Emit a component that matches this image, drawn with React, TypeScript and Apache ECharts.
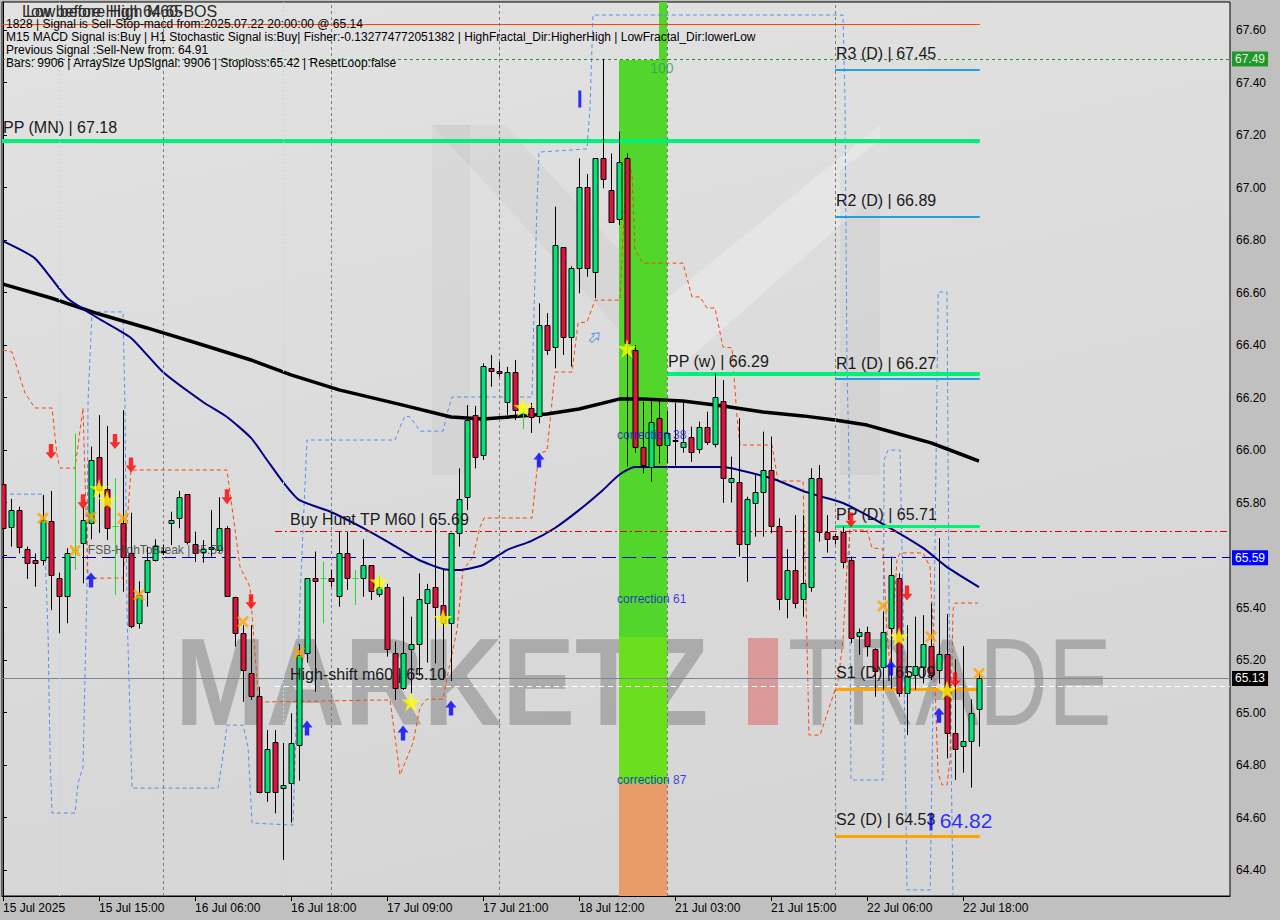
import React, { useEffect, useRef } from "react";
import * as echarts from "echarts";

// ---------- DATA ----------
const timeLabels = ["15 Jul 2025", "15 Jul 15:00", "16 Jul 06:00", "16 Jul 18:00", "17 Jul 09:00", "17 Jul 21:00", "18 Jul 12:00", "21 Jul 03:00", "21 Jul 15:00", "22 Jul 06:00", "22 Jul 18:00"];
const timeLabelBars = [0, 12, 24, 36, 48, 60, 72, 84, 96, 108, 120];
const priceTicks = [64.4, 64.6, 64.8, 65.0, 65.2, 65.4, 65.6, 65.8, 66.0, 66.2, 66.4, 66.6, 66.8, 67.0, 67.2, 67.4, 67.6];
// 65.60 label is hidden behind the 65.59 price box in the reference
const priceLabels = [64.4, 64.6, 64.8, 65.0, 65.2, 65.4, 65.8, 66.0, 66.2, 66.4, 66.6, 66.8, 67.0, 67.2, 67.4, 67.6];

// [open, close, low, high] per bar
const bars: number[][] = [
  [65.869, 65.702, 65.651, 65.885], [65.708, 65.771, 65.632, 65.814], [65.771, 65.629, 65.606, 65.784], [65.622, 65.571, 65.509, 65.632],
  [65.581, 65.571, 65.479, 65.606], [65.581, 65.733, 65.560, 65.829], [65.731, 65.524, 65.390, 65.844], [65.511, 65.444, 65.302, 65.533],
  [65.444, 65.609, 65.340, 65.626], [65.620, 65.620, 65.543, 66.063], [65.645, 65.733, 65.492, 65.784], [65.721, 65.962, 65.660, 66.013],
  [65.972, 65.848, 65.684, 66.133], [65.850, 65.702, 65.657, 66.091], [65.710, 65.710, 65.448, 65.893], [65.721, 65.594, 65.460, 66.152],
  [65.609, 65.330, 65.321, 65.761], [65.340, 65.448, 65.320, 65.500], [65.460, 65.581, 65.403, 65.632], [65.581, 65.634, 65.575, 65.660],
  [65.617, 65.610, 65.600, 65.640], [65.721, 65.733, 65.638, 65.765], [65.740, 65.820, 65.702, 65.844], [65.831, 65.651, 65.640, 65.831],
  [65.641, 65.606, 65.574, 65.689], [65.611, 65.622, 65.571, 65.657], [65.622, 65.632, 65.594, 65.771], [65.619, 65.702, 65.610, 65.820],
  [65.702, 65.444, 65.440, 65.710], [65.441, 65.302, 65.251, 65.441], [65.302, 65.162, 65.041, 65.333], [65.152, 65.063, 65.048, 65.333],
  [65.063, 64.698, 64.692, 65.098], [64.698, 64.860, 64.660, 64.933], [64.889, 64.698, 64.616, 64.933], [64.711, 64.722, 64.438, 64.884],
  [64.730, 64.883, 64.580, 64.997], [64.875, 65.220, 64.740, 65.260], [65.228, 65.511, 65.190, 65.511], [65.511, 65.502, 65.079, 65.613],
  [65.511, 65.511, 65.340, 65.575], [65.511, 65.502, 65.479, 65.543], [65.444, 65.609, 65.403, 65.689], [65.609, 65.511, 65.467, 65.689],
  [65.511, 65.511, 65.410, 65.543], [65.511, 65.561, 65.441, 65.660], [65.561, 65.464, 65.429, 65.561], [65.451, 65.479, 65.440, 65.520],
  [65.479, 65.241, 65.213, 65.490], [65.228, 65.092, 65.048, 65.270], [65.092, 65.228, 65.086, 65.441], [65.241, 65.261, 65.073, 65.365],
  [65.261, 65.431, 65.140, 65.530], [65.419, 65.469, 65.190, 65.490], [65.479, 65.401, 65.187, 65.736], [65.411, 65.340, 65.124, 65.543],
  [65.340, 65.683, 65.120, 65.683], [65.683, 65.812, 65.632, 65.930], [65.822, 66.114, 65.771, 66.171], [66.133, 65.972, 65.930, 66.168],
  [65.981, 66.320, 65.962, 66.330], [66.311, 66.301, 66.241, 66.362], [66.302, 66.292, 66.279, 66.336], [66.184, 66.298, 66.133, 66.317],
  [66.298, 66.152, 66.114, 66.343], [66.140, 66.140, 66.080, 66.160], [66.159, 66.127, 66.065, 66.180], [66.130, 66.476, 66.102, 66.559],
  [66.476, 66.381, 66.362, 66.521], [66.391, 66.781, 66.311, 66.927], [66.772, 66.429, 66.362, 66.772], [66.432, 66.692, 66.318, 66.700],
  [66.692, 67.001, 66.597, 67.111], [67.001, 66.692, 66.660, 67.051], [66.679, 67.111, 66.578, 67.111], [67.111, 67.031, 66.997, 67.490],
  [66.990, 66.870, 66.865, 67.130], [66.879, 67.098, 66.857, 67.213], [67.111, 66.406, 65.937, 67.130], [66.381, 66.013, 65.990, 66.400],
  [66.013, 65.943, 65.911, 66.184], [65.937, 66.108, 65.879, 66.184], [66.121, 66.019, 65.949, 66.184], [66.019, 66.065, 65.950, 66.150],
  [66.040, 66.035, 65.940, 66.180], [66.010, 66.030, 65.990, 66.180], [66.051, 65.994, 65.955, 66.089], [66.003, 66.089, 65.987, 66.108],
  [66.089, 66.032, 66.019, 66.146], [66.023, 66.201, 66.010, 66.292], [66.188, 65.892, 65.799, 66.267], [65.879, 65.892, 65.800, 65.975],
  [65.879, 65.642, 65.594, 66.121], [65.642, 65.812, 65.498, 65.822], [65.799, 65.841, 65.670, 65.911], [65.841, 65.924, 65.670, 66.070],
  [65.924, 65.710, 65.683, 66.051], [65.710, 65.431, 65.390, 65.740], [65.431, 65.543, 65.359, 65.622], [65.543, 65.418, 65.397, 65.752],
  [65.431, 65.492, 65.365, 65.752], [65.479, 65.892, 65.460, 65.930], [65.892, 65.689, 65.651, 65.943], [65.689, 65.660, 65.609, 65.752],
  [65.672, 65.660, 65.640, 65.680], [65.689, 65.574, 65.549, 65.708], [65.581, 65.283, 65.264, 65.594], [65.291, 65.308, 65.220, 65.320],
  [65.308, 65.253, 65.213, 65.327], [65.241, 65.159, 65.060, 65.245], [65.175, 65.308, 65.086, 65.384], [65.321, 65.524, 65.090, 65.594],
  [65.511, 65.073, 65.060, 65.530], [65.073, 65.139, 64.914, 65.333], [65.143, 65.177, 65.086, 65.365], [65.175, 65.261, 65.111, 65.371],
  [65.253, 65.143, 65.124, 65.416], [65.162, 65.223, 65.110, 65.664], [65.223, 64.921, 64.825, 65.375], [64.921, 64.860, 64.743, 65.203],
  [64.872, 64.891, 64.771, 65.253], [64.891, 64.999, 64.714, 65.050], [65.012, 65.130, 64.870, 65.149],
];

const slowMA = [[0, 66.632], [6, 66.579], [12, 66.518], [18, 66.465], [25, 66.4], [31, 66.343], [36, 66.286], [42, 66.229], [50, 66.171], [56, 66.126], [60, 66.118], [68, 66.137], [72, 66.156], [77, 66.194], [80, 66.194], [85, 66.187], [90, 66.168], [95, 66.145], [100, 66.13], [104, 66.114], [108, 66.095], [112, 66.061], [116, 66.027], [120, 65.981], [122, 65.958]];
const fastMA = [[0, 66.796], [4, 66.73], [8, 66.58], [12, 66.5], [16, 66.427], [20, 66.297], [25, 66.183], [28, 66.126], [31, 66.046], [33, 65.962], [35, 65.878], [37, 65.81], [41, 65.764], [45, 65.703], [49, 65.634], [52, 65.581], [55, 65.547], [57, 65.543], [60, 65.562], [63, 65.619], [66, 65.653], [69, 65.703], [72, 65.771], [75, 65.848], [77, 65.905], [79, 65.935], [85, 65.935], [90, 65.935], [92, 65.924], [95, 65.901], [97, 65.882], [100, 65.844], [102, 65.825], [105, 65.798], [110, 65.718], [115, 65.627], [118, 65.554], [122, 65.478]];

const stopLine = [[0, 66.381], [1.13, 66.373], [2.75, 66.217], [4, 66.16], [6.13, 66.16], [6.75, 65.981], [7.13, 65.931], [9, 65.931], [10, 66.16], [10.63, 65.512], [15, 65.512], [16, 65.924], [28, 65.924], [29.63, 65.554], [30.88, 65.478], [31.75, 65.124], [32, 65.04], [48.38, 65.048], [49.63, 64.762], [51.25, 64.884], [52.13, 65.021], [53, 65.051], [55, 65.051], [55.88, 65.189], [56.75, 65.314], [57.5, 65.543], [58.75, 65.592], [59.63, 65.707], [60.13, 65.741], [66.13, 65.741], [66.75, 65.924], [67.13, 65.989], [68, 65.996], [69, 66.297], [71.13, 66.297], [71.88, 66.484], [73, 66.488], [74, 66.571], [77.13, 66.571], [77.5, 66.811], [78, 67.116], [78.63, 67.048], [79, 66.762], [80, 66.712], [85, 66.712], [86.13, 66.583], [87.13, 66.583], [88, 66.541], [89, 66.541], [90, 66.392], [91.13, 66.389], [91.75, 66.126], [92.13, 66.019], [96.13, 66.019], [96.88, 65.882], [100, 65.882], [100.38, 65.429], [100.75, 64.914], [102.13, 64.914], [104, 65.086], [104.38, 65.116], [105, 65.276], [105.5, 65.554], [105.88, 65.695], [108, 65.695], [108.63, 65.627], [110, 65.623], [110.5, 65.303], [110.88, 65.173], [111.75, 65.581], [112.13, 65.608], [115, 65.608], [115.88, 65.554], [116.25, 65.326], [116.88, 64.77], [117.38, 64.724], [118, 64.724], [118.38, 64.819], [118.75, 65.39], [119, 65.417], [121.88, 65.417]];

const bandLine = [[0, 65.832], [5, 65.832], [5.63, 65.303], [5.88, 64.846], [6.13, 64.617], [9, 64.617], [9.38, 64.731], [10, 64.792], [10.5, 65.478], [10.63, 66.19], [11.13, 66.526], [15, 66.526], [15.25, 66.164], [15.5, 65.379], [15.63, 65.25], [16.13, 64.712], [26.88, 64.712], [27.38, 64.808], [28, 64.952], [30, 64.952], [30.63, 64.869], [31.13, 64.579], [36.25, 64.571], [37.13, 65.44], [38, 66.038], [49, 66.038], [49.63, 66.088], [50.25, 66.13], [50.88, 66.126], [52.13, 66.072], [55, 66.072], [55.63, 66.152], [56.13, 66.202], [66.13, 66.202], [66.25, 66.381], [66.75, 66.941], [67, 67.135], [73, 67.147], [73.38, 67.307], [73.75, 67.657], [105, 67.657], [105.25, 67.333], [105.5, 66.316], [105.75, 65.962], [106, 64.743], [110, 64.743], [110.13, 65.962], [110.63, 66.0], [112.13, 66.0], [112.5, 65.429], [113, 64.324], [115.9, 64.324], [116.25, 65.048], [116.9, 66.602], [118, 66.602], [118.25, 65.429], [118.75, 64.305]];

const sellArrows = [[6, 65.994], [10, 65.803], [14, 66.032], [16, 65.943], [28, 65.822], [31, 65.422], [106, 65.733], [113, 65.455], [119, 65.124]];
const buyArrows = [[11, 65.505], [38, 64.941], [50, 64.922], [56, 65.017], [67, 65.962], [111, 65.17], [117, 64.99]];
const crossMarks = [[5, 65.74], [9, 65.616], [11, 65.746], [15, 65.74], [17, 65.448], [30, 65.346], [37, 65.228], [110, 65.406], [116, 65.289], [122, 65.149]];
const starMarks = [[12, 65.854], [13, 65.81], [47, 65.498], [51, 65.041], [55, 65.359], [65, 66.163], [78, 66.387], [112, 65.289], [118, 65.086]];
const fractalBars = [[72.1, 67.337], [116, 64.583]];
const hollowArrow = [[74, 66.43]];

const pivots = [
  { name: "PP (MN)", value: 67.18, from: -0.125, to: 122.1, kind: "pp" },
  { name: "R3 (D)", value: 67.45, from: 104, to: 122.1, kind: "r" },
  { name: "R2 (D)", value: 66.89, from: 104, to: 122.1, kind: "r" },
  { name: "R1 (D)", value: 66.27, from: 104, to: 122.1, kind: "r" },
  { name: "PP (w)", value: 66.29, from: 83, to: 122.1, kind: "ppw" },
  { name: "PP (D)", value: 65.71, from: 104, to: 122.1, kind: "ppd" },
  { name: "S1 (D)", value: 65.09, from: 104, to: 122.1, kind: "s" },
  { name: "S2 (D)", value: 64.53, from: 104, to: 122.1, kind: "s" },
];
const signalPrice = 67.623;
const highPrice = 67.49;
const fsbHigh = 65.59;
const lastPrice = 65.13;
const buyHuntTP = 65.69;
const highShift = 65.1;
const corrections = [{ t: "correction 38", v: 66.057 }, { t: "correction 61", v: 65.432 }, { t: "correction 87", v: 64.743 }];
const daySeparators = [20, 41, 62, 83, 104];
const cycleLines = [7, 35];
const zoneBars = [77, 83];
const zoneLevels = [67.707, 67.486, 65.288, 64.73, 64.301];

const headerLines = [
  "1828 | Signal is Sell-Stop-macd from:2025.07.22 20:00:00 @ 65.14",
  "M15 MACD Signal is:Buy | H1 Stochastic Signal is:Buy| Fisher:-0.132774772051382 | HighFractal_Dir:HigherHigh | LowFractal_Dir:lowerLow",
  "Previous Signal :Sell-New from: 64.91",
  "Bars: 9906 | ArraySize UpSignal: 9906 | Stoploss:65.42 | ResetLoop:false",
];

// ---------- STYLE ----------
const FONT = '"Liberation Sans", Arial, sans-serif';
const X_MIN = -0.125, X_MAX = 153.375, Y_MIN = 64.301, Y_MAX = 67.7067;
const BULL = "#00E676", BEAR = "#DC143C", DOJI = "#22DD22";

const pivotStyle: any = {
  pp: { color: "#00F07A", width: 4, dist: 5 },
  ppw: { color: "#00F07A", width: 4, dist: 4 },
  ppd: { color: "#00F07A", width: 3, dist: 4 },
  r: { color: "#1E9FE8", width: 2, dist: 8 },
  s: { color: "#FFA500", width: 3, dist: 8 },
};

function buildOption() {
  const candleData = bars.map((b, i) => [i, b[0], b[1], b[2], b[3]]);

  const markLines: any[] = [];
  markLines.push([{ coord: [X_MIN, signalPrice], lineStyle: { color: "#FF4500", width: 1, type: "solid" } }, { coord: [122.1, signalPrice] }]);
  pivots.forEach((p) => {
    const st = pivotStyle[p.kind];
    markLines.push([
      {
        coord: [p.from, p.value],
        lineStyle: { color: st.color, width: st.width, type: "solid" },
        label: { show: true, position: "insideStartTop", formatter: `${p.name} | ${p.value.toFixed(2)}`, color: "#1a1a1a", fontSize: 16, fontFamily: FONT, distance: [1, st.dist] },
      },
      { coord: [p.to, p.value] },
    ]);
  });
  markLines.push([
    { coord: [34, buyHuntTP], lineStyle: { color: "#E00000", width: 1, type: [7, 3, 2, 3] }, label: { show: true, position: "insideStartTop", formatter: `Buy Hunt TP M60 | ${buyHuntTP.toFixed(2)}`, color: "#1a1a1a", fontSize: 16, fontFamily: FONT, padding: [0, 0, 0, 14], distance: [1, 4] } },
    { coord: [X_MAX, buyHuntTP] },
  ]);
  markLines.push([
    { coord: [34, highShift], lineStyle: { color: "#FFFFFF", width: 1, type: [5, 4] }, label: { show: true, position: "insideStartTop", formatter: `High-shift m60 | ${highShift.toFixed(2)}`, color: "#1a1a1a", fontSize: 16, fontFamily: FONT, padding: [0, 0, 0, 14], distance: [1, 4] } },
    { coord: [X_MAX, highShift] },
  ]);
  markLines.push({ yAxis: highPrice, lineStyle: { color: "#2E8B2E", width: 1, type: [3, 3] }, label: { show: true, position: "end", formatter: highPrice.toFixed(2), backgroundColor: "#23982A", color: "#DFF5DF", fontSize: 12, fontFamily: FONT, padding: [2, 3, 1, 3], distance: 2 } });
  markLines.push({ yAxis: fsbHigh, lineStyle: { color: "#0000B0", width: 1, type: [14, 6] }, label: { show: true, position: "end", formatter: fsbHigh.toFixed(2), backgroundColor: "#0000FF", color: "#FFFFFF", fontSize: 12, fontFamily: FONT, padding: [2, 3, 1, 3], distance: 2 } });
  markLines.push({ yAxis: lastPrice, lineStyle: { color: "#778899", width: 1, type: "solid" }, label: { show: true, position: "end", formatter: lastPrice.toFixed(2), backgroundColor: "#000000", color: "#FFFFFF", fontSize: 12, fontFamily: FONT, padding: [2, 3, 1, 3], distance: 2 } });
  daySeparators.forEach((d) => markLines.push({ xAxis: d, lineStyle: { color: "#7A7A7A", width: 1, type: [3, 3] } }));
  cycleLines.forEach((d) => markLines.push({ xAxis: d, lineStyle: { color: "#B4DCE8", width: 1, type: [2, 2] } }));

  const markAreas: any[] = [
    [{ coord: [zoneBars[1] - 1, zoneLevels[0]], itemStyle: { color: "#52D62B" } }, { coord: [zoneBars[1], zoneLevels[1]] }],
    [{ coord: [zoneBars[0], zoneLevels[1]], itemStyle: { color: "#52D62B" } }, { coord: [zoneBars[1], zoneLevels[2]] }],
    [{ coord: [zoneBars[0], zoneLevels[2]], itemStyle: { color: "#6ADF1E" } }, { coord: [zoneBars[1], zoneLevels[3]] }],
    [{ coord: [zoneBars[0], zoneLevels[3]], itemStyle: { color: "#E89C68" } }, { coord: [zoneBars[1], zoneLevels[4]] }],
  ];

  const textNotes: any[] = [
    { value: [10.6, 65.619], label: { formatter: `FSB-HighToBreak | ${fsbHigh.toFixed(2)}`, color: "#333", fontSize: 12 } },
    ...corrections.map((c) => ({ value: [76.75, c.v], label: { formatter: c.t, color: "#1010E0", fontSize: 12 } })),
    { value: [80.9, 67.455], label: { formatter: "100", color: "#3C9A5C", fontSize: 14 } },
    { value: [117.1, 64.59], label: { formatter: "64.82", color: "#0000FF", fontSize: 21 } },
  ];

  const wm = "rgba(125,125,125,0.5)";
  const graphic: any[] = [
    { type: "polygon", z: 1, silent: true, shape: { points: [[432, 125], [470, 125], [470, 475], [432, 475]] }, style: { fill: "rgba(0,0,0,0.03)" } },
    { type: "polygon", z: 1, silent: true, shape: { points: [[432, 125], [505, 125], [665, 300], [665, 380]] }, style: { fill: "rgba(0,0,0,0.03)" } },
    { type: "polygon", z: 1, silent: true, shape: { points: [[665, 300], [880, 125], [880, 190], [665, 380]] }, style: { fill: "rgba(255,255,255,0.25)" } },
    { type: "polygon", z: 1, silent: true, shape: { points: [[840, 170], [880, 140], [880, 475], [840, 475]] }, style: { fill: "rgba(0,0,0,0.03)" } },
    { type: "text", z: 1, silent: true, x: 175, y: 682, scaleX: 0.88, style: { text: "MARKETZ", fill: wm, fontSize: 124, fontWeight: "bold", fontFamily: FONT, verticalAlign: "middle", align: "left" } },
    { type: "rect", z: 1, silent: true, shape: { x: 748, y: 638, width: 30, height: 87 }, style: { fill: "rgba(225,80,80,0.45)" } },
    { type: "text", z: 1, silent: true, x: 788, y: 682, scaleX: 0.77, style: { text: "TRADE", fill: wm, fontSize: 124, fontFamily: FONT, verticalAlign: "middle", align: "left" } },
    { type: "text", z: 20, silent: true, x: 22, y: 11, style: { text: "Low before High 64.65", fill: "#2a2a2a", fontSize: 16, fontFamily: FONT, verticalAlign: "middle" } },
    { type: "text", z: 20, silent: true, x: 26, y: 11, style: { text: "Low before High M60-BOS", fill: "#2a2a2a", fontSize: 16, fontFamily: FONT, verticalAlign: "middle" } },
    ...headerLines.map((t, k) => ({ type: "text", z: 20, silent: true, x: 6, y: 24 + k * 13, style: { text: t, fill: "#000", fontSize: 12, fontFamily: FONT, verticalAlign: "middle" } })),
  ];

  const arrowDown = "path://M3,0 L7,0 L7,7 L10,7 L5,13 L0,7 L3,7 Z";
  const arrowUp = "path://M5,0 L10,6 L7,6 L7,13 L3,13 L3,6 L0,6 Z";
  const cross = "path://M0,2 L2,0 L6,4 L10,0 L12,2 L8,6 L12,10 L10,12 L6,8 L2,12 L0,10 L4,6 Z";
  const star = "path://M50,0 L61,35 L98,35 L68,57 L79,91 L50,70 L21,91 L32,57 L2,35 L39,35 Z";

  return {
    animation: false,
    backgroundColor: "#C0C0C0",
    grid: {
      left: 2, right: 50, top: 2, bottom: 24, show: true, borderColor: "#000", borderWidth: 1,
      backgroundColor: { type: "linear", x: 0, y: 0, x2: 0.3, y2: 1, colorStops: [{ offset: 0, color: "#E2E2E2" }, { offset: 1, color: "#D6D6D6" }] },
    },
    xAxis: {
      type: "value", min: X_MIN, max: X_MAX,
      axisLine: { show: true, lineStyle: { color: "#000" } },
      axisTick: { show: true, customValues: timeLabelBars, length: 5, lineStyle: { color: "#000" } },
      axisLabel: { customValues: timeLabelBars, formatter: (v: number) => timeLabels[timeLabelBars.indexOf(Math.round(v))] ?? "", align: "left", color: "#000", fontSize: 12, fontFamily: FONT, margin: 6 },
      splitLine: { show: false },
    },
    yAxis: {
      type: "value", position: "right", min: Y_MIN, max: Y_MAX, scale: true,
      axisLine: { show: true, lineStyle: { color: "#000" } },
      axisTick: { show: true, customValues: priceTicks, length: 4, lineStyle: { color: "#000" } },
      axisLabel: { customValues: priceLabels, formatter: (v: number) => v.toFixed(2), color: "#000", fontSize: 12, fontFamily: FONT, margin: 6 },
      splitLine: { show: false },
    },
    graphic,
    series: [
      {
        type: "line", name: "zones", data: [[0, 65]], symbol: "none", lineStyle: { opacity: 0 }, z: 1, silent: true,
        markArea: { silent: true, data: markAreas },
      },
      {
        type: "line", name: "levels", data: [[0, 65]], symbol: "none", lineStyle: { opacity: 0 }, z: 3, silent: true,
        markLine: { silent: true, symbol: ["none", "none"], label: { show: false }, data: markLines },
      },
      { type: "line", name: "band", data: bandLine, symbol: "none", z: 3, silent: true, lineStyle: { color: "#5B8FF0", width: 1, type: [4, 3] } },
      { type: "line", name: "stop", data: stopLine, symbol: "none", z: 3, silent: true, lineStyle: { color: "#FF4500", width: 1, type: [4, 3] } },
      { type: "line", name: "slow", data: slowMA, symbol: "none", z: 4, silent: true, lineStyle: { color: "#000000", width: 3.5 } },
      { type: "line", name: "fast", data: fastMA, symbol: "none", smooth: 0.2, z: 4, silent: true, lineStyle: { color: "#000080", width: 2 } },
      {
        type: "custom", name: "candles", data: candleData, z: 5, silent: true, clip: true,
        encode: { x: 0, y: [1, 2, 3, 4] },
        renderItem: (params: any, api: any) => {
          const i = api.value(0), o = api.value(1), c = api.value(2), l = api.value(3), h = api.value(4);
          const po = api.coord([i, o]), pc = api.coord([i, c]), pl = api.coord([i, l]), ph = api.coord([i, h]);
          const x = Math.round(po[0]) + 0.5;
          if (o === c) {
            return {
              type: "group", children: [
                { type: "line", shape: { x1: x, y1: ph[1], x2: x, y2: pl[1] }, style: { stroke: DOJI, lineWidth: 1 } },
                { type: "line", shape: { x1: x - 3, y1: Math.round(po[1]) + 0.5, x2: x + 3, y2: Math.round(po[1]) + 0.5 }, style: { stroke: DOJI, lineWidth: 1 } },
              ],
            };
          }
          const top = Math.round(Math.min(po[1], pc[1])), bot = Math.round(Math.max(po[1], pc[1]));
          return {
            type: "group", children: [
              { type: "line", shape: { x1: x, y1: ph[1], x2: x, y2: pl[1] }, style: { stroke: "#000", lineWidth: 1 } },
              { type: "rect", shape: { x: x - 2.5, y: top + 0.5, width: 5, height: Math.max(1, bot - top) }, style: { fill: c > o ? BULL : BEAR, stroke: "#000", lineWidth: 1 } },
            ],
          };
        },
      },
      { type: "scatter", name: "sell", data: sellArrows, symbol: arrowDown, symbolSize: [11, 15], itemStyle: { color: "#FF0000" }, z: 6, silent: true },
      { type: "scatter", name: "buy", data: buyArrows, symbol: arrowUp, symbolSize: [11, 15], itemStyle: { color: "#0000FF" }, z: 6, silent: true },
      { type: "scatter", name: "cross", data: crossMarks, symbol: cross, symbolSize: 12, itemStyle: { color: "#FFA500" }, z: 6, silent: true },
      { type: "scatter", name: "star", data: starMarks, symbol: star, symbolSize: 19, itemStyle: { color: "#FFFF00" }, z: 6, silent: true },
      { type: "scatter", name: "fractal", data: fractalBars, symbol: "rect", symbolSize: [3, 17], itemStyle: { color: "#0000FF" }, z: 6, silent: true },
      { type: "scatter", name: "hollow", data: hollowArrow, symbol: arrowUp, symbolSize: [9, 12], symbolRotate: -45, itemStyle: { color: "rgba(0,0,0,0)", borderColor: "#4A86E8", borderWidth: 1 }, z: 6, silent: true },
      {
        type: "scatter", name: "notes", data: textNotes, symbolSize: 0, z: 7, silent: true,
        label: { show: true, position: "right", distance: 0, fontFamily: FONT },
      },
    ],
  };
}

export default function App() {
  const ref = useRef<HTMLDivElement>(null);
  useEffect(() => {
    const chart = echarts.init(ref.current!, null, { renderer: "svg" });
    chart.setOption(buildOption() as any);
    return () => chart.dispose();
  }, []);
  return <div ref={ref} style={{ position: "fixed", left: 0, top: 0, width: 1280, height: 920, background: "#C0C0C0" }} />;
}
